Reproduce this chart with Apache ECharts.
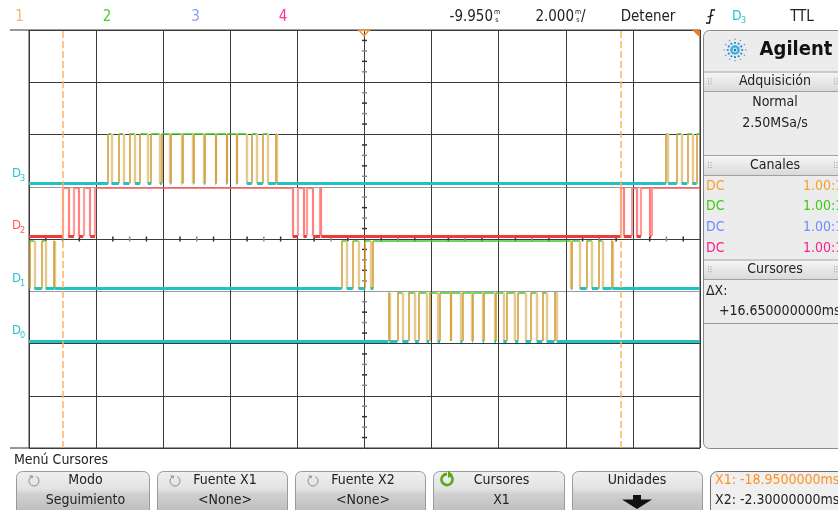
<!DOCTYPE html>
<html><head><meta charset="utf-8">
<script src="https://cdn.jsdelivr.net/npm/echarts@6/dist/echarts.min.js"></script>
<style>html,body{margin:0;padding:0;background:#fff;overflow:hidden}#c{width:838px;height:510px}</style>
</head><body><div id="c"></div>
<script>
// ---- data ----
const timeMin = -19.95, timeMax = 0.05;        // ms, screen span (center -9.950 ms, 2 ms/div)
const channelNames = ['D3', 'D2', 'D1', 'D0'];
const channelLow  = [1.06, 0.06, -0.95, -1.95]; // divisions from center
const channelHigh = [2.01, 0.98, -0.04, -1.03];
// high intervals [start, end] in ms
const d3High = [[-17.59,-17.49],[-17.27,-17.14],[-16.96,-16.79],[-16.64,-16.41],[-16.31,-16.05],[-16.00,-15.74],[-15.72,-15.40],[-15.38,-15.06],[-15.04,-14.73],[-14.70,-14.39],[-14.37,-14.07],[-14.05,-13.77],[-13.75,-13.46],[-13.31,-13.15],[-12.98,-12.82],[-12.59,-12.56],[-0.96,-0.90],[-0.64,-0.50],[-0.33,-0.18],[-0.05,0.05]];
const d2High = [[-18.93,-18.78],[-18.61,-18.46],[-18.33,-18.13],[-17.98,-12.09],[-11.94,-11.77],[-11.67,-11.48],[-11.27,-11.24],[-2.30,-2.22],[-1.99,-1.84],[-1.71,-1.44],[-1.40,0.05]];
const d1High = [[-19.94,-19.79],[-19.57,-19.45],[-19.20,-19.18],[-10.63,-10.48],[-10.30,-10.13],[-9.94,-9.77],[-9.69,-3.79],[-3.76,-3.53],[-3.33,-3.17],[-2.98,-2.85],[-2.59,-2.56]];
const d0High = [[-9.24,-9.21],[-8.97,-8.82],[-8.64,-8.44],[-8.33,-8.10],[-8.02,-7.77],[-7.70,-7.39],[-7.38,-7.09],[-7.03,-6.74],[-6.72,-6.43],[-6.39,-6.08],[-6.03,-5.81],[-5.71,-5.46],[-5.37,-5.15],[-4.99,-4.82],[-4.65,-4.52],[-4.29,-4.22]];
const cursorTimes = [-18.95, -2.30];
const analogLabels = ['1', '2', '3', '4'];
const channelScale = ['1.00:1', '1.00:1', '1.00:1', '1.00:1'];

// ---- helpers ----
const F = "'Liberation Sans Narrow','DejaVu Sans Condensed','Arial Narrow',sans-serif";
function buildSegs(highs, lo, hi) {
  const low = [], high = [], rise = [], fall = [];
  let t = timeMin;
  highs.forEach(([a, b]) => {
    if (a > t) low.push({coords: [[t, lo], [a, lo]]});
    if (a > timeMin) rise.push({coords: [[a, lo], [a, hi]]});
    high.push({coords: [[a, hi], [b, hi]]});
    if (b < timeMax) fall.push({coords: [[b, hi], [b, lo]]});
    t = b;
  });
  if (t < timeMax) low.push({coords: [[t, lo], [timeMax, lo]]});
  return {low, high, rise, fall};
}
function L(data, color, width, z, type) {
  return {type: 'lines', coordinateSystem: 'cartesian2d', xAxisIndex: 1, yAxisIndex: 0,
    polyline: false, silent: true, animation: false, z: z, data: data,
    lineStyle: {color: color, width: width, opacity: 1, type: type || 'solid', cap: 'butt'}};
}
const series = [];
[d3High, d2High, d1High, d0High].forEach((h, i) => {
  const s = buildSegs(h, channelLow[i], channelHigh[i]);
  if (i === 1) {
    series.push(L(s.high, '#ff5a5a', 1.5, 3));
    series.push(L(s.rise, '#ff9a9a', 2.2, 4));
    series.push(L(s.fall, '#ff8080', 2.2, 4));
    series.push(L(s.low, '#ee3a3a', 3, 5));
  } else {
    series.push(L(s.high, '#3ccc2a', 1.6, 3));
    series.push(L(s.fall, '#e4ca90', 2.4, 4));
    series.push(L(s.rise, '#d0982c', 1.5, 4));
    series.push(L(s.low, '#22c2c4', 3, 5));
  }
});
// cursors
series.push(L(cursorTimes.map(t => ({coords: [[t, -4], [t, 4]]})), '#ffb060', 1.5, 8, [7, 3]));
// center-line minor ticks
const hTicks = [], vTicks = [];
for (let k = 1; k < 40; k++) if (k % 4) hTicks.push([k / 4, 0, k % 2]);
for (let k = -19; k < 20; k++) if (k % 5) vTicks.push([5, k / 5, k % 2 ? 1 : 0]);
series.push({type: 'custom', xAxisIndex: 0, yAxisIndex: 0, silent: true, animation: false, z: 2, data: hTicks,
  renderItem: (p, api) => { const c = api.coord([api.value(0), api.value(1)]);
    return {type: 'line', shape: {x1: c[0], y1: c[1] - 2.5, x2: c[0], y2: c[1] + 2.5}, style: {stroke: api.value(2) ? '#333' : '#888', lineWidth: 1.5}}; }});
series.push({type: 'custom', xAxisIndex: 0, yAxisIndex: 0, silent: true, animation: false, z: 2, data: vTicks,
  renderItem: (p, api) => { const c = api.coord([api.value(0), api.value(1)]);
    return {type: 'line', shape: {x1: c[0] - 2.5, y1: c[1], x2: c[0] + 2.5, y2: c[1]}, style: {stroke: api.value(2) ? '#333' : '#888', lineWidth: 1.5}}; }});

// ---- graphics ----
const G = [];
function T(x, y, text, size, fill, align, extra) {
  G.push(Object.assign({type: 'text', x: x, y: y, silent: true, z: 100,
    style: {text: text, font: (extra && extra.weight ? extra.weight + ' ' : '') + size + 'px ' + F, fill: fill, textAlign: align || 'left', textVerticalAlign: 'middle'}}));
}
function R(x, y, w, h, fill, stroke, r, z) {
  G.push({type: 'rect', silent: true, z: z || 90, shape: {x: x, y: y, width: w, height: h, r: r || 0}, style: {fill: fill, stroke: stroke || null, lineWidth: 1}});
}
function Ln(x1, y1, x2, y2, c, w, z) {
  G.push({type: 'line', silent: true, z: z || 95, shape: {x1, y1, x2, y2}, style: {stroke: c, lineWidth: w || 1}});
}
// top bar
const aColors = ['#ffb466', '#4cc934', '#8c9cff', '#ff3399'];
const aX = [19.5, 107, 195.5, 283];
analogLabels.forEach((s, i) => T(aX[i], 17, s, 15, aColors[i], 'center'));
T(493, 17, '-9.950', 15, '#222', 'right');
T(497, 12.5, 'm', 7, '#222', 'center'); T(497, 20.5, 's', 7, '#222', 'center');
T(574, 17, '2.000', 15, '#222', 'right');
T(578, 12.5, 'm', 7, '#222', 'center'); T(578, 20.5, 's', 7, '#222', 'center');
T(581, 17, '/', 15, '#222', 'left');
T(648, 17, 'Detener', 15, '#222', 'center');
G.push({type: 'polyline', silent: true, z: 100, shape: {points: [[706, 23], [709.5, 23], [711.5, 10], [715, 10]]}, style: {stroke: '#111', lineWidth: 1.3, fill: null}});
Ln(707.5, 17, 713.5, 15, '#111', 1.2, 100);
T(732, 16, 'D', 14, '#28c4cc', 'left'); T(741, 21, '3', 9, '#28c4cc', 'left');
T(802, 17, 'TTL', 15, '#222', 'center');
// plot border extensions and markers
Ln(10, 30, 29, 30, '#333', 1); Ln(10, 448, 29, 448, '#333', 1);
G.push({type: 'polygon', silent: true, z: 100, shape: {points: [[359, 30.5], [369, 30.5], [364, 36]]}, style: {stroke: '#f59a3a', fill: null, lineWidth: 1.5}});
G.push({type: 'polygon', silent: true, z: 100, shape: {points: [[692, 30], [699.5, 30], [699.5, 37]]}, style: {fill: '#f07a1e'}});
// channel labels
const labY = [174, 226, 279, 331];
channelNames.forEach((n, i) => {
  const c = i === 1 ? '#ff5858' : '#28c4cc';
  T(12, labY[i], 'D', 13, c, 'left');
  T(20, labY[i] + 5, n.slice(1), 9, c, 'left');
});
// right panel
R(703.5, 30.5, 150, 418, '#ececec', '#8a8a8a', 6, 80);
// logo spark
for (let a = 0; a < 12; a++) {
  const ang = a * Math.PI / 6;
  for (let k = 1; k <= 3; k++) {
    const r = k * 3.6;
    G.push({type: 'circle', silent: true, z: 100, shape: {cx: 735 + Math.cos(ang) * r, cy: 50 + Math.sin(ang) * r, r: k === 1 ? 1.4 : (k === 2 ? 1.1 : 0.8)}, style: {fill: k === 2 ? '#3d7fc4' : '#39b6e0'}});
  }
}
G.push({type: 'circle', silent: true, z: 100, shape: {cx: 735, cy: 50, r: 1.3}, style: {fill: '#2a6fb8'}});
T(796, 50, 'Agilent', 20, '#111', 'center', {weight: 'bold'});
function header(y0, y1, text) {
  G.push({type: 'rect', silent: true, z: 85, shape: {x: 704, y: y0, width: 134, height: y1 - y0},
    style: {fill: new echarts.graphic.LinearGradient(0, 0, 0, 1, [{offset: 0, color: '#f7f7f7'}, {offset: 1, color: '#dadada'}])}});
  Ln(704, y0 + 0.5, 838, y0 + 0.5, '#a0a0a0', 1); Ln(704, y1 + 0.5, 838, y1 + 0.5, '#a0a0a0', 1);
  T(775, (y0 + y1) / 2 + 0.5, text, 14, '#222', 'center');
  [708, 834].forEach(gx => { for (let r = 0; r < 3; r++) for (let c2 = 0; c2 < 2; c2++) R(gx + c2 * 2.5, (y0 + y1) / 2 - 3 + r * 2.5, 1, 1, '#999', null, 0, 96); });
}
header(71.5, 91, 'Adquisición');
T(775, 102.5, 'Normal', 14, '#222', 'center');
T(775, 123.5, '2.50MSa/s', 14, '#222', 'center');
header(155, 175, 'Canales');
const chCol = ['#f7a030', '#3ccc14', '#6f8cff', '#ff1e8c'];
const chY = [186, 206.5, 227.5, 248];
chCol.forEach((c, i) => { T(706, chY[i], 'DC', 14, c, 'left'); T(803, chY[i], channelScale[i], 14, c, 'left'); });
header(259.5, 279, 'Cursores');
T(706, 291.5, 'ΔX:', 14, '#222', 'left');
T(719, 311, '+16.650000000ms', 14, '#222', 'left');
Ln(704, 323.5, 838, 323.5, '#999', 1);
// bottom menu
T(14, 460, 'Menú Cursores', 14, '#222', 'left');
const btns = [[16, 149, 'Modo', 'Seguimiento'], [157, 287, 'Fuente X1', '<None>'], [295, 425, 'Fuente X2', '<None>'], [433, 564, 'Cursores', 'X1'], [572, 702, 'Unidades', '']];
btns.forEach(([x0, x1, a, b], i) => {
  G.push({type: 'rect', silent: true, z: 85, shape: {x: x0 + 0.5, y: 471.5, width: x1 - x0, height: 50, r: 6},
    style: {stroke: '#9a9a9a', lineWidth: 1, fill: new echarts.graphic.LinearGradient(0, 0, 0, 1, [{offset: 0, color: '#f0f0f0'}, {offset: 0.35, color: '#e2e2e2'}, {offset: 0.45, color: '#d0d0d0'}, {offset: 1, color: '#b4b4b4'}])}});
  const cx = (x0 + x1) / 2 + (i < 4 ? 3 : 0);
  T(cx, 480, a, 14, '#222', 'center');
  if (b) T(cx, 500, b, 14, '#222', 'center');
  if (i < 3) {
    const ix = x0 + 18, iy = 481;
    G.push({type: 'arc', silent: true, z: 100, shape: {cx: ix, cy: iy, r: 5, startAngle: -Math.PI * 0.35, endAngle: Math.PI * 1.45, clockwise: true}, style: {stroke: '#8a8a8a', lineWidth: 1, fill: null}});
    G.push({type: 'polyline', silent: true, z: 100, shape: {points: [[ix - 4.5, iy - 5], [ix - 2, iy - 5], [ix - 2, iy - 2.5]]}, style: {stroke: '#8a8a8a', lineWidth: 1, fill: null}});
  } else if (i === 3) {
    const ix = 447, iy = 479.5;
    G.push({type: 'arc', silent: true, z: 100, shape: {cx: ix, cy: iy, r: 5.5, startAngle: -Math.PI * 0.3, endAngle: Math.PI * 1.5, clockwise: true}, style: {stroke: '#5aa81e', lineWidth: 2.8, fill: null}});
    G.push({type: 'polygon', silent: true, z: 100, shape: {points: [[ix + 1, iy - 9], [ix + 6, iy - 4.5], [ix + 1, iy - 1.5]]}, style: {fill: '#5aa81e'}});
  } else {
    G.push({type: 'polygon', silent: true, z: 100, shape: {points: [[633, 495], [641, 495], [641, 499.5], [652, 499.5], [637, 509], [622, 499.5], [633, 499.5]]}, style: {fill: '#111'}});
  }
});
G.push({type: 'rect', silent: true, z: 85, shape: {x: 710.5, y: 471.5, width: 150, height: 50, r: 7}, style: {fill: '#f0f0f0', stroke: '#707070', lineWidth: 1}});
T(715, 480, 'X1: -18.9500000ms', 14, '#ff9020', 'left');
T(715, 500, 'X2: -2.30000000ms', 14, '#222', 'left');

// ---- chart ----
const chart = echarts.init(document.getElementById('c'), null, {renderer: 'canvas'});
chart.setOption({
  animation: false,
  backgroundColor: '#ffffff',
  grid: {left: 29, right: 138, top: 30, bottom: 62, show: true, borderColor: '#3a3a3a', borderWidth: 1, backgroundColor: 'transparent'},
  xAxis: [
    {type: 'value', min: 0, max: 10, interval: 1, axisLine: {show: false}, axisTick: {show: false}, axisLabel: {show: false},
      splitLine: {show: true, lineStyle: {color: '#3a3a3a', width: 1}}},
    {type: 'value', min: timeMin, max: timeMax, show: false, splitLine: {show: false}}
  ],
  yAxis: [{type: 'value', min: -4, max: 4, interval: 1, axisLine: {show: false}, axisTick: {show: false}, axisLabel: {show: false},
    splitLine: {show: true, lineStyle: {color: ['#3a3a3a', '#3a3a3a', '#3a3a3a', '#9a9a9a', '#3a3a3a', '#9a9a9a', '#3a3a3a', '#3a3a3a', '#3a3a3a'], width: 1}}}],
  series: series,
  graphic: G
});
</script>
</body></html>
